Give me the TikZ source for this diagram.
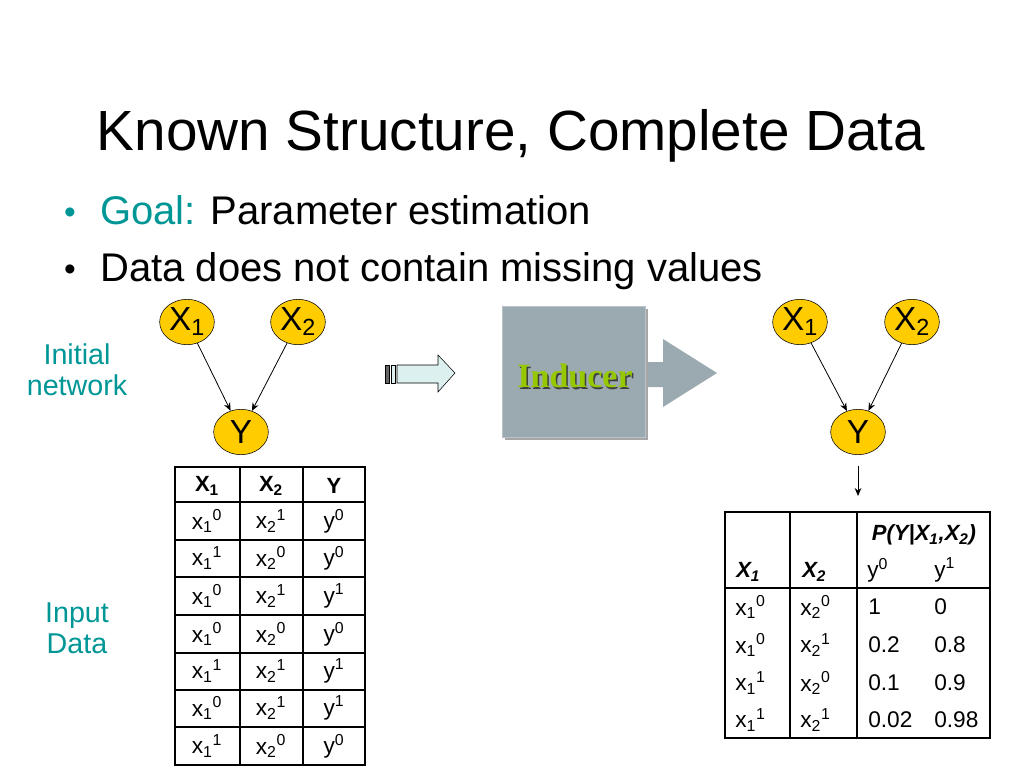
\documentclass[tikz,border=0pt]{standalone}
\usepackage{fontspec}
\setmainfont{Liberation Sans}
\newfontfamily\serifbold{Liberation Serif}
\usetikzlibrary{arrows.meta,shapes.geometric}
\definecolor{teal1}{RGB}{0,150,150}
\definecolor{gold1}{RGB}{255,204,0}
\definecolor{boxgray}{RGB}{155,170,176}
\definecolor{inducergreen}{RGB}{150,200,0}
\definecolor{paleblue}{RGB}{220,240,240}
\newcommand{\xs}[3]{#1\textsubscript{#2}\textsuperscript{#3}}
\begin{document}
\begin{tikzpicture}[x=0.75pt,y=-0.75pt,
  bnode/.style={ellipse,draw=black,fill=gold1,minimum width=41pt,minimum height=34pt,inner sep=0pt,font=\fontsize{25}{25}\selectfont},
  edge/.style={-{Stealth[length=6pt,width=5pt]},line width=0.6pt},
  cell/.style={font=\fontsize{17}{18}\selectfont,inner sep=0pt},
  hcell/.style={font=\fontsize{16.5}{18}\selectfont\bfseries,inner sep=0pt},
  side/.style={text=teal1,align=center,font=\fontsize{21.5}{23.5}\selectfont},
  bullet/.style={anchor=base,font=\fontsize{25}{25}\selectfont},
  gridline/.style={line width=1.1pt}]
\useasboundingbox (0,0) rectangle (1024,768);
% title and bullets
\node[anchor=base,font=\fontsize{42.5}{44}\selectfont] (title) at (511,150) {Known Structure, Complete Data};
\node[bullet,text=teal1] (dot1) at (70,223) {•};
\node[anchor=base west,inner sep=0pt,font=\fontsize{30}{32}\selectfont] (goal) at (100,224) {\textcolor{teal1}{Goal:} Parameter estimation};
\node[bullet] (dot2) at (70,280) {•};
\node[anchor=base west,inner sep=0pt,font=\fontsize{30}{32}\selectfont] (nomiss) at (100,281) {Data does not contain missing values};
% left network
\node[bnode] (lX1) at (187,322) {X\textsubscript{1}};
\node[bnode] (lX2) at (298,322) {X\textsubscript{2}};
\node[bnode] (lY) at (241,432) {Y};
\draw[edge] (lX1) -- (lY);
\draw[edge] (lX2) -- (lY);
\node[side] (initial) at (77,370) {Initial\\network};
\node[side] (input) at (77,628) {Input\\Data};
% input data table
\draw[line width=1.6pt] (175,467) rectangle (365,765);
\foreach \x in {240,303} \draw[gridline] (\x,467) -- (\x,765);
\foreach \y in {502,540,577,615,653,690,727} \draw[gridline] (175,\y) -- (365,\y);
\node[hcell] (h1) at (207,486) {X\textsubscript{1}};
\node[hcell] (h2) at (271,486) {X\textsubscript{2}};
\node[hcell] (h3) at (334,486) {Y};
\foreach \y/\a/\b/\c in {521/0/1/0,558/1/0/0,596/0/1/1,634/0/0/0,671/1/1/1,708/0/1/1,746/1/0/0}{
  \node[cell] (d\y a) at (207,\y) {\xs{x}{1}{\a}};
  \node[cell] (d\y b) at (271,\y) {\xs{x}{2}{\b}};
  \node[cell] (d\y c) at (334,\y) {y\textsuperscript{\c}};
}
% small arrow
\draw[fill=black!60] (385,365) rectangle (389,383);
\draw[fill=paleblue] (391,365) rectangle (395,383);
\draw[fill=paleblue] (397,365) -- (438,365) -- (438,355) -- (455,373) -- (438,392) -- (438,383) -- (397,383) -- cycle;
% inducer
\fill[boxgray] (645,362) -- (663,362) -- (663,339) -- (717,373) -- (663,407) -- (663,387) -- (645,387) -- cycle;
\fill[black!35] (505,309) rectangle (648,440);
\draw[fill=boxgray,draw=boxgray!70!white] (502,306) rectangle (645,437);
\node[font=\serifbold\bfseries\fontsize{25.5}{25}\selectfont,text=black!75] (indshadow) at (576.5,377.5) {Inducer};
\node[font=\serifbold\bfseries\fontsize{25.5}{25}\selectfont,text=inducergreen] (inducer) at (575,376) {Inducer};
% right network
\node[bnode] (rX1) at (800,322) {X\textsubscript{1}};
\node[bnode] (rX2) at (912,322) {X\textsubscript{2}};
\node[bnode] (rY) at (858,432) {Y};
\draw[edge] (rX1) -- (rY);
\draw[edge] (rX2) -- (rY);
\coordinate (ptop) at (858,512);
\draw[edge,shorten <=8pt,shorten >=12pt] (rY) -- (ptop);
% CPT
\draw[gridline] (725,512) rectangle (990,738);
\foreach \x in {790,857} \draw[gridline] (\x,512) -- (\x,738);
\draw[gridline] (725,588) -- (990,588);
\node[hcell,font=\fontsize{16.5}{18}\selectfont\bfseries\itshape] (pyx) at (924,535) {P(Y|X\textsubscript{1},X\textsubscript{2})};
\node[hcell,anchor=west,font=\fontsize{16.5}{18}\selectfont\bfseries\itshape] (cx1) at (736,572) {X\textsubscript{1}};
\node[hcell,anchor=west,font=\fontsize{16.5}{18}\selectfont\bfseries\itshape] (cx2) at (802,572) {X\textsubscript{2}};
\node[cell,anchor=west] (cy0) at (867,570) {y\textsuperscript{0}};
\node[cell,anchor=west] (cy1) at (934,570) {y\textsuperscript{1}};
\foreach \y/\a/\b/\p/\q in {607/0/0/1/0,645/0/1/0.2/0.8,683/1/0/0.1/0.9,720/1/1/0.02/0.98}{
  \node[cell,anchor=west] (c\y a) at (735,\y) {\xs{x}{1}{\a}};
  \node[cell,anchor=west] (c\y b) at (800,\y) {\xs{x}{2}{\b}};
  \node[cell,anchor=west] (c\y p) at (868,\y) {\p};
  \node[cell,anchor=west] (c\y q) at (934,\y) {\q};
}
\end{tikzpicture}
\end{document}
